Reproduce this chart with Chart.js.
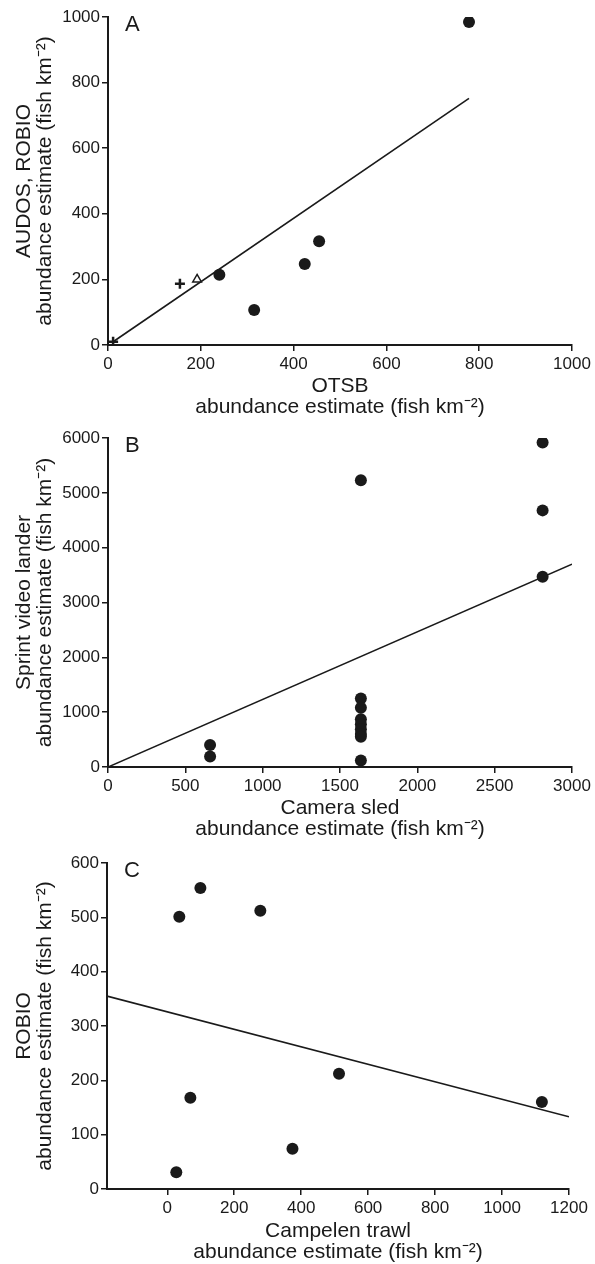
<!DOCTYPE html>
<html>
<head>
    <title>Abundance estimates</title>
    <script src="https://cdn.jsdelivr.net/npm/chart.js@4.4.0/dist/chart.umd.min.js"></script>
    <style>
        body { margin: 0; background: #fff; }
        canvas { display: block; }
    </style>
</head>
<body>
<canvas id="chartA" width="595" height="421"></canvas>
<canvas id="chartB" width="595" height="421"></canvas>
<canvas id="chartC" width="595" height="422"></canvas>
<script>
    // panel A: OTSB vs AUDOS / ROBIO
    var otsbCircleX = [240, 315, 424, 455, 778];
    var otsbCircleY = [214, 107, 247, 316, 985];
    var otsbCrossX = [155, 11];
    var otsbCrossY = [187, 10];
    var otsbTriX = [192];
    var otsbTriY = [200];
    var fitAX = [11, 778];
    var fitAY = [10, 752];

    // panel B: camera sled vs Sprint video lander
    var sledX = [660, 660, 1635, 1635, 1635, 1635, 1635, 1635, 1635, 1635, 1635, 2810, 2810, 2810];
    var sprintY = [400, 190, 5230, 1250, 1080, 870, 780, 690, 600, 550, 120, 5920, 4680, 3470];
    var fitBX = [0, 3000];
    var fitBY = [0, 3700];

    // panel C: Campelen trawl vs ROBIO
    var trawlX = [36, 99, 278, 69, 27, 374, 513, 1119];
    var robioY = [501, 554, 512, 168, 31, 74, 212, 160];
    var fitCX = [-180, 1200];
    var fitCY = [355, 133];

    var ink = '#1a1a1a';
    var fontFam = '"Liberation Sans", Arial, Helvetica, sans-serif';
    var unitLine = 'abundance estimate (fish km\u207B\u00B2)';

    function pts(xs, ys) {
        var out = [];
        for (var i = 0; i < xs.length; i++) out.push({x: xs[i], y: ys[i]});
        return out;
    }

    function fitLine(xs, ys) {
        return {
            data: pts(xs, ys), showLine: true, borderColor: ink, borderWidth: 1.6,
            pointRadius: 0, order: 2
        };
    }

    function dots(xs, ys) {
        return {
            data: pts(xs, ys), pointStyle: 'circle', pointRadius: 6,
            backgroundColor: ink, borderWidth: 0, order: 1
        };
    }

    function plain(v) { return String(v); }

    var panelLetter = {
        id: 'panelLetter',
        afterDraw: function(chart) {
            var ctx = chart.ctx;
            ctx.save();
            ctx.fillStyle = ink;
            ctx.font = '22px ' + fontFam;
            ctx.textBaseline = 'top';
            ctx.fillText(chart.options.plugins.panelLetter.text, chart.chartArea.left + 17, chart.chartArea.top - 3);
            ctx.restore();
        }
    };

    function makeChart(id, letter, datasets, xs, ys, box) {
        var xScale = {
            type: 'linear', min: xs.min, max: xs.max,
            ticks: { stepSize: xs.step, color: ink, font: {size: 17, family: fontFam}, padding: 3, maxRotation: 0, callback: plain },
            grid: { drawOnChartArea: false, color: ink, lineWidth: 1.5, tickLength: 6 },
            border: { color: ink, width: 2 },
            title: { display: true, text: xs.title, color: ink, font: {size: 21, family: fontFam, lineHeight: 1.0}, padding: {top: 0, bottom: box.tb} },
            afterFit: function(s) { s.height = box.xh; }
        };
        if (xs.ticksAt) {
            xScale.afterBuildTicks = function(s) {
                s.ticks = xs.ticksAt.map(function(v) { return {value: v}; });
            };
        }
        return new Chart(document.getElementById(id), {
            type: 'scatter',
            data: { datasets: datasets },
            plugins: [panelLetter],
            options: {
                responsive: false,
                animation: false,
                layout: { padding: {left: 0, right: box.right, top: box.top, bottom: 0} },
                plugins: { legend: {display: false}, tooltip: {enabled: false}, panelLetter: {text: letter} },
                scales: {
                    x: xScale,
                    y: {
                        type: 'linear', min: ys.min, max: ys.max,
                        ticks: { stepSize: ys.step, color: ink, font: {size: 17, family: fontFam}, padding: 2, callback: plain },
                        grid: { drawOnChartArea: false, color: ink, lineWidth: 1.5, tickLength: 6 },
                        border: { color: ink, width: 2 },
                        title: { display: true, text: ys.title, color: ink, font: {size: 21, family: fontFam, lineHeight: 1.0}, padding: {top: 14, bottom: 0} },
                        afterFit: function(s) { s.width = box.yw; }
                    }
                }
            }
        });
    }

    makeChart('chartA', 'A', [
        fitLine(fitAX, fitAY),
        dots(otsbCircleX, otsbCircleY),
        { data: pts(otsbCrossX, otsbCrossY), pointStyle: 'cross', pointRadius: 5, borderColor: ink, borderWidth: 2.5, order: 1 },
        { data: pts(otsbTriX, otsbTriY), pointStyle: 'triangle', pointRadius: 5, backgroundColor: '#fff', borderColor: ink, borderWidth: 1.5, order: 1 }
    ], {min: 0, max: 1000, step: 200, title: ['OTSB', unitLine]},
       {min: 0, max: 1000, step: 200, title: ['AUDOS, ROBIO', unitLine]},
       {yw: 108, xh: 76, right: 23, top: 17, tb: 3});

    makeChart('chartB', 'B', [
        fitLine(fitBX, fitBY),
        dots(sledX, sprintY)
    ], {min: 0, max: 3000, step: 500, title: ['Camera sled', unitLine]},
       {min: 0, max: 6000, step: 1000, title: ['Sprint video lander', unitLine]},
       {yw: 108, xh: 75, right: 23, top: 17, tb: 2});

    makeChart('chartC', 'C', [
        fitLine(fitCX, fitCY),
        dots(trawlX, robioY)
    ], {min: -180, max: 1200, step: 200, ticksAt: [0, 200, 400, 600, 800, 1000, 1200], title: ['Campelen trawl', unitLine]},
       {min: 0, max: 600, step: 100, title: ['ROBIO', unitLine]},
       {yw: 107, xh: 75, right: 26, top: 21, tb: 1});
</script>
</body>
</html>
